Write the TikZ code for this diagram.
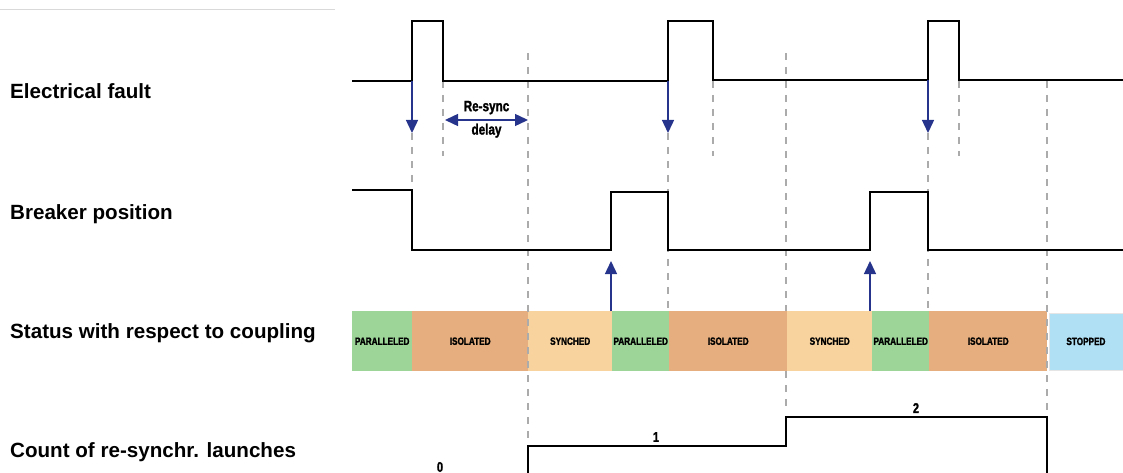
\documentclass[tikz,border=0pt]{standalone}
\usepackage{fontspec}
\setmainfont{Liberation Sans}
\newfontfamily\condfont[FakeStretch=0.78,FakeBold=1.6]{Liberation Sans Bold}
\usetikzlibrary{arrows.meta}
\definecolor{FigureNavy}{HTML}{27348B}
\definecolor{ParGreen}{HTML}{9DD498}
\definecolor{IsoTan}{HTML}{E6AE7E}
\definecolor{SynPeach}{HTML}{F8D39E}
\definecolor{StopBlue}{HTML}{B0E0F4}

\begin{document}
\begin{tikzpicture}[x=1pt,y=-1pt,
  sig/.style={line width=1.6pt},
  guide/.style={black!33,line width=1.3pt,dash pattern=on 7pt off 7pt},
  evt/.style={FigureNavy,line width=1.4pt,-{Triangle[width=12pt,length=13pt]}},
  dly/.style={FigureNavy,line width=1.4pt,{Triangle[width=12pt,length=13pt]}-{Triangle[width=12pt,length=13pt]}},
  lbl/.style={anchor=base west,inner sep=0pt,font=\bfseries\fontsize{20.6}{24}\selectfont},
  tag/.style={inner sep=0pt,text=black,font=\condfont\fontsize{10.5}{12}\selectfont},
  cell/.style={tag,anchor=north west,minimum height=60pt}]
  \useasboundingbox (0,0) rectangle (1123,473);
  \draw[black!15,line width=.6pt] (0,9) -- (335,9);
  \node[lbl] (fault) at (10,99) {Electrical fault}; \node[lbl] (brk) at (10,219) {Breaker position};
  \node[lbl] (stat) at (10,338) {Status with respect to coupling}; \node[lbl] (cnt) at (10,457) {Count of re-synchr. launches};
  % status bar
  \foreach \a/\b/\col/\t [count=\i] in {352/412/ParGreen/PARALLELED, 412/528/IsoTan/ISOLATED, 528/612/SynPeach/SYNCHED,
      612/669/ParGreen/PARALLELED, 669/787/IsoTan/ISOLATED, 787/872/SynPeach/SYNCHED, 872/929/ParGreen/PARALLELED, 929/1047/IsoTan/ISOLATED}
    {\pgfmathsetmacro\w{\b-\a}\node[cell,fill=\col,minimum width=\w pt] (s\i) at (\a,311) {\t};}
  \node[cell,fill=StopBlue,draw=black!10,line width=.8pt,minimum width=74pt,minimum height=57pt] (s9) at (1048.5,312.5) {STOPPED};
  % time marks
  \coordinate (f1) at (412,81); \coordinate (f2) at (668,81); \coordinate (f3) at (928,80);
  \coordinate (f1t) at (412,133); \coordinate (f2t) at (668,133); \coordinate (f3t) at (928,133);
  \draw[guide] (f1t) -- (412,190); \draw[guide] (443,81) -- (443,156); \draw[guide] (528,53) -- (528,440);
  \draw[guide] (f2t) -- (668,311); \draw[guide] (713,81) -- (713,156); \draw[guide] (786,53) -- (786,311) (786,371) -- (786,413);
  \draw[guide] (f3t) -- (928,311); \draw[guide] (959,81) -- (959,156); \draw[guide] (1047,81) -- (1047,413);
  % signals
  \draw[sig] (352,81) -- (f1) -- (412,21) -- (443,21) -- (443,81) -- (f2) -- (668,21) -- (713,21) -- (713,80) -- (f3) -- (928,21) -- (959,21) -- (959,80) -- (1123,80);
  \draw[sig] (352,190) -- (412,190) -- (412,250) -- (611,250) -- (611,192) -- (668,192) -- (668,250) -- (870,250) -- (870,192) -- (928,192) -- (928,250) -- (1123,250);
  \draw[sig] (528,474) -- (528,446) -- (786,446) -- (786,417) -- (1047,417) -- (1047,474);
  \node[tag,font=\condfont\fontsize{14}{16}\selectfont] (n0) at (440,467) {0};
  \node[tag,font=\condfont\fontsize{14}{16}\selectfont] (n1) at (656,437) {1};
  \node[tag,font=\condfont\fontsize{14}{16}\selectfont] (n2) at (916,408) {2};
  % events
  \draw[evt] (f1) -- (f1t); \draw[evt] (f2) -- (f2t); \draw[evt] (f3) -- (f3t);
  \draw[evt] (611,311) -- (611,261); \draw[evt] (870,311) -- (870,261);
  \coordinate (d1) at (445,120); \coordinate (d2) at (528,120);
  \draw[dly] (d1) -- (d2) node[tag,midway,above=5pt,font=\condfont\fontsize{15}{17}\selectfont] (rs) {Re-sync}
    node[tag,midway,below=3pt,font=\condfont\fontsize{15}{17}\selectfont] (dl) {delay};
\end{tikzpicture}
\end{document}
